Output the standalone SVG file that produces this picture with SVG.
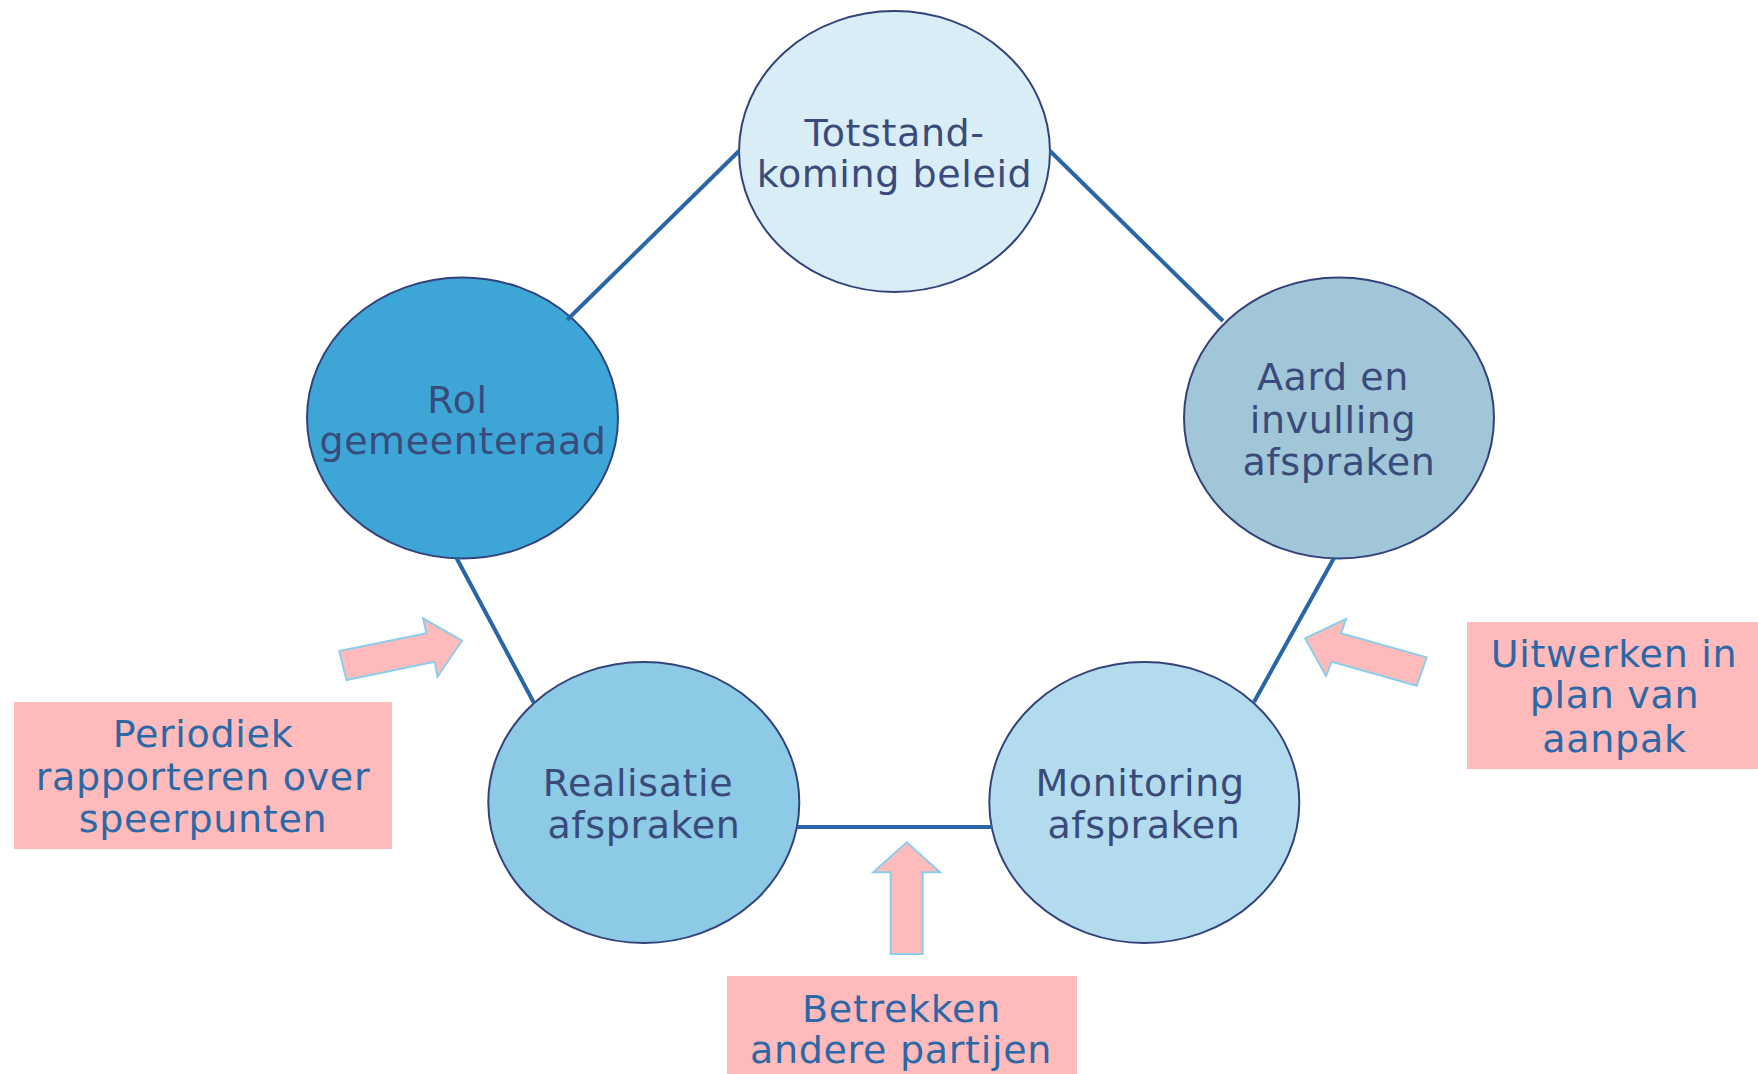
<svg xmlns="http://www.w3.org/2000/svg" width="1758" height="1074" viewBox="0 0 1758 1074">
<style>
  .node { stroke: #33437a; stroke-width: 2; }
  .ntext { font-family: "DejaVu Sans", Verdana, sans-serif; font-size: 38px; letter-spacing: 0.6px; fill: #3a4a7a; text-anchor: middle; }
  .ltext { font-family: "DejaVu Sans", Verdana, sans-serif; font-size: 38px; letter-spacing: 0.7px; fill: #2c68a6; text-anchor: middle; }
  .conn { stroke: #2a65a6; stroke-width: 4; fill: none; }
  .box { fill: #ffbbbb; }
  .arrow { fill: #ffbbbb; stroke: #8ecde9; stroke-width: 2; stroke-linejoin: miter; }
</style>
<rect width="1758" height="1074" fill="#ffffff"/>

<g id="node-totstand">
  <ellipse class="node" cx="894.5" cy="151.5" rx="155.5" ry="140.5" fill="#d8edf6"/>
  <text class="ntext" x="894.5" y="146">Totstand-</text>
  <text class="ntext" x="894.5" y="187">koming beleid</text>
</g>
<g id="node-rol">
  <ellipse class="node" cx="462.5" cy="418" rx="155.5" ry="140.5" fill="#3da6d6"/>
  <text class="ntext" x="457.5" y="413">Rol</text>
  <text class="ntext" x="463" y="454">gemeenteraad</text>
</g>
<g id="node-aard">
  <ellipse class="node" cx="1339" cy="418" rx="155" ry="140.5" fill="#a0c6d8"/>
  <text class="ntext" x="1333" y="390">Aard en</text>
  <text class="ntext" x="1333" y="433">invulling</text>
  <text class="ntext" x="1339" y="475">afspraken</text>
</g>
<g id="node-realisatie">
  <ellipse class="node" cx="643.8" cy="802.5" rx="155.5" ry="140.5" fill="#8ccae6"/>
  <text class="ntext" x="638" y="796">Realisatie</text>
  <text class="ntext" x="644" y="838">afspraken</text>
</g>
<g id="node-monitoring">
  <ellipse class="node" cx="1144.3" cy="802.5" rx="155" ry="140.5" fill="#b2dcee"/>
  <text class="ntext" x="1140" y="796">Monitoring</text>
  <text class="ntext" x="1144" y="838">afspraken</text>
</g>

<g id="connectors">
  <line class="conn" x1="739" y1="151" x2="567" y2="320"/>
  <line class="conn" x1="1050" y1="151" x2="1223" y2="321"/>
  <line class="conn" x1="1334" y1="558" x2="1254" y2="702"/>
  <line class="conn" x1="456.5" y1="558" x2="534" y2="703"/>
  <line class="conn" x1="797" y1="827" x2="992" y2="827"/>
</g>

<g id="arrow-left">
  <polygon class="arrow" points="339.3,651 426.5,633.3 423,618.3 462,640.7 437.5,676.7 434.7,661.7 346.5,680"/>
</g>
<g id="arrow-right">
  <polygon class="arrow" points="1305,638.3 1346,619 1341,633.3 1426.7,657.3 1416.7,685.7 1331.7,661.7 1326,676"/>
</g>
<g id="arrow-bottom">
  <polygon class="arrow" points="906.7,842.3 940,872.3 922.7,872.3 922.7,954 890.7,954 890.7,872.3 873.3,872.3"/>
</g>

<g id="label-periodiek">
  <rect class="box" x="14" y="702" width="378" height="147"/>
  <text class="ltext" x="203" y="747">Periodiek</text>
  <text class="ltext" x="203" y="790">rapporteren over</text>
  <text class="ltext" x="203" y="832">speerpunten</text>
</g>
<g id="label-betrekken">
  <rect class="box" x="727" y="976" width="350" height="98"/>
  <text class="ltext" x="901.5" y="1022">Betrekken</text>
  <text class="ltext" x="901" y="1063">andere partijen</text>
</g>
<g id="label-uitwerken">
  <rect class="box" x="1467" y="622" width="291" height="147"/>
  <text class="ltext" x="1614" y="667">Uitwerken in</text>
  <text class="ltext" x="1614.5" y="708">plan van</text>
  <text class="ltext" x="1614.5" y="752">aanpak</text>
</g>
</svg>
